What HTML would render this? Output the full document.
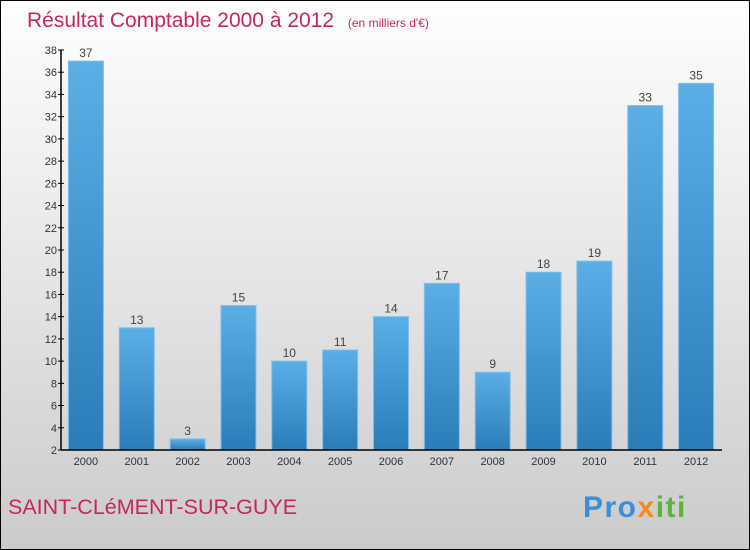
<!DOCTYPE html>
<html><head><meta charset="utf-8"><style>
body{margin:0}
#c{width:750px;height:550px;position:relative;box-sizing:border-box;border:1px solid #000;background:linear-gradient(#fefefe,#f0f0f0 30%,#cbcbcb);font-family:"Liberation Sans",sans-serif;overflow:hidden}
</style></head><body>
<div id="c">
<svg id="s" width="750" height="550" style="position:absolute;left:-1px;top:-1px">
<defs><linearGradient id="g" x1="0" y1="0" x2="0" y2="1"><stop offset="0" stop-color="#5caee6"/><stop offset="1" stop-color="#2a7db8"/></linearGradient></defs>
<text x="27" y="27" font-size="21" fill="#c4275d">Résultat Comptable 2000 à 2012 <tspan font-size="12" dx="8">(en milliers d'€)</tspan></text>
<text x="8" y="514" font-size="21.5" fill="#c4275d">SAINT-CLéMENT-SUR-GUYE</text>
<text x="583" y="517" font-size="30" font-weight="bold" letter-spacing="1.5"><tspan fill="#3a8fd6">Pro</tspan><tspan fill="#f28c1a">x</tspan><tspan fill="#5db43c">iti</tspan></text>
<g id="plot"></g>
</svg>
</div>
<script>
const years=["2000","2001","2002","2003","2004","2005","2006","2007","2008","2009","2010","2011","2012"];
const values=[37,13,3,15,10,11,14,17,9,18,19,33,35];
const yTicks=[2,4,6,8,10,12,14,16,18,20,22,24,26,28,30,32,34,36,38];
const NS="http://www.w3.org/2000/svg";
const g=document.getElementById('plot');
const x0=61,x1=722,yTop=50,yBot=450,ymin=2,ymax=38;
const band=(x1-x0)/years.length;
const y=v=>yBot-(v-ymin)/(ymax-ymin)*(yBot-yTop);
const xc=i=>x0+band*(i+0.5)-0.5;
function mk(t,a){const e=document.createElementNS(NS,t);for(const k in a)e.setAttribute(k,a[k]);g.appendChild(e);return e;}
yTicks.forEach(v=>{
 const t=mk('line',{x1:x0-3,x2:x0+3,y1:y(v),y2:y(v),stroke:'#000'});
 
 
 const l=mk('text',{x:x0-4,y:y(v)+4,'font-size':11,'text-anchor':'end',fill:'#333'});
 l.textContent=v;
 
 
});
values.forEach((v,i)=>{
 const r=mk('rect',{x:xc(i)-17.5,y:y(v),width:35,height:yBot-y(v),fill:'url(#g)',stroke:'#7cc0ef','stroke-width':1});
 
 
 const t=mk('text',{x:xc(i),y:y(v)-4,'font-size':12,'text-anchor':'middle',fill:'#444'});
 t.textContent=v;
 
 
 const xl=mk('text',{x:xc(i),y:yBot+15,'font-size':11,'text-anchor':'middle',fill:'#333'});
 xl.textContent=years[i];
 
 
});
const ya=mk('line',{x1:x0,x2:x0,y1:yTop,y2:yBot,stroke:'#000','stroke-width':1.5});


const xa=mk('line',{x1:x0,x2:x1,y1:yBot,y2:yBot,stroke:'#000','stroke-width':1.5});


</script>
</body></html>
